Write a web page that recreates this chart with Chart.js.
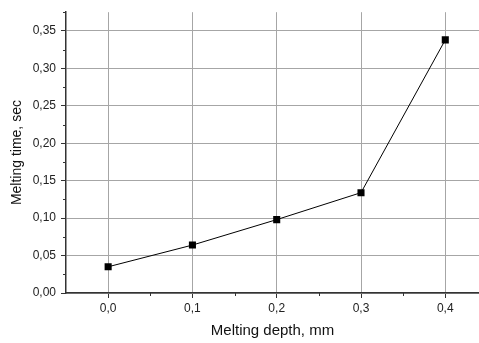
<!DOCTYPE html>
<html>
<head>
<meta charset="utf-8">
<script src="https://cdn.jsdelivr.net/npm/chart.js@4/dist/chart.umd.min.js"></script>
<style>
  html, body { margin: 0; padding: 0; background: #fff; }
  #wrap { width: 479px; height: 343px; position: relative; }
</style>
</head>
<body>
<div id="wrap"><canvas id="c" width="479" height="343"></canvas></div>
<script>
// ---- data ----
const meltingDepth = [0.0, 0.1, 0.2, 0.3, 0.4];
const meltingTime = [0.035, 0.064, 0.098, 0.134, 0.338];
const xTickValues = [0.0, 0.1, 0.2, 0.3, 0.4];
const yTickValues = [0.00, 0.05, 0.10, 0.15, 0.20, 0.25, 0.30, 0.35];
const xMinorTicks = [0.05, 0.15, 0.25, 0.35];
const yMinorTicks = [0.025, 0.075, 0.125, 0.175, 0.225, 0.275, 0.325, 0.375];
const xTitle = 'Melting depth, mm';
const yTitle = 'Melting time, sec';

const AXIS = '#333333';
const GRID = '#a6a6a6';
const FONT = "'Liberation Sans', Arial, sans-serif";

const minorTicks = {
  id: 'minorTicks',
  afterDraw(chart) {
    const ctx = chart.ctx;
    const xs = chart.scales.x, ys = chart.scales.y;
    ctx.save();
    ctx.strokeStyle = AXIS;
    ctx.lineWidth = 1;
    ctx.beginPath();
    xMinorTicks.forEach(v => {
      const px = Math.round(xs.getPixelForValue(v)) + 0.5;
      ctx.moveTo(px, ys.bottom);
      ctx.lineTo(px, ys.bottom + 3);
    });
    yMinorTicks.forEach(v => {
      const py = Math.round(ys.getPixelForValue(v)) + 0.5;
      ctx.moveTo(xs.left, py);
      ctx.lineTo(xs.left - 3, py);
    });
    ctx.stroke();
    ctx.restore();
  }
};

const fmt = (d) => (v) => Number(v).toFixed(d).replace('.', ',');

new Chart(document.getElementById('c'), {
  type: 'scatter',
  data: {
    datasets: [{
      data: meltingDepth.map((x, i) => ({ x: x, y: meltingTime[i] })),
      showLine: true,
      borderColor: '#000',
      borderWidth: 1,
      backgroundColor: '#000',
      pointStyle: 'rect',
      pointRadius: 5,
      pointHoverRadius: 5,
      pointBorderWidth: 0,
      tension: 0
    }]
  },
  options: {
    responsive: false,
    animation: false,
    devicePixelRatio: 1,
    layout: { autoPadding: false, padding: { top: 10, right: 0, left: 0, bottom: 0 } },
    plugins: { legend: { display: false }, tooltip: { enabled: false } },
    scales: {
      x: {
        type: 'linear',
        min: -0.05,
        max: 0.44,
        afterBuildTicks: (s) => { s.ticks = xTickValues.map(v => ({ value: v })); },
        afterFit: (s) => { s.height = 50; },
        grid: { color: GRID, lineWidth: 1, tickColor: AXIS, tickLength: 5, drawOnChartArea: true },
        border: { display: true, color: AXIS, width: 1.5 },
        ticks: { callback: fmt(1), color: '#222', font: { family: FONT, size: 12 }, padding: 3, maxRotation: 0, autoSkip: false },
        title: { display: true, text: xTitle, color: '#111', font: { family: FONT, size: 15 }, padding: { top: 0, bottom: 3 } }
      },
      y: {
        type: 'linear',
        min: 0,
        max: 0.375,
        afterBuildTicks: (s) => { s.ticks = yTickValues.map(v => ({ value: v })); },
        afterFit: (s) => { s.width = 66; },
        grid: { color: GRID, lineWidth: 1, tickColor: AXIS, tickLength: 5 },
        border: { display: true, color: AXIS, width: 1.5 },
        ticks: { callback: fmt(2), color: '#222', font: { family: FONT, size: 12 }, padding: 5, autoSkip: false },
        title: { display: true, text: yTitle, color: '#111', font: { family: FONT, size: 14 }, padding: { top: 9, bottom: 0 } }
      }
    }
  },
  plugins: [minorTicks]
});
</script>
</body>
</html>
